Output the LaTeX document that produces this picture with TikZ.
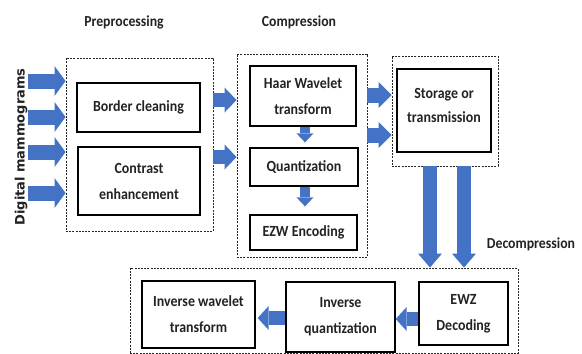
\documentclass[tikz,border=0pt]{standalone}
\usepackage{fontspec}
\setmainfont{Carlito}[FakeStretch=0.9]
\newfontfamily\dvsans{DejaVu Sans}
\usetikzlibrary{arrows.meta}
\definecolor{ablue}{RGB}{68,114,196}
\definecolor{txt}{RGB}{35,35,35}
\begin{document}
\begin{tikzpicture}[x=1pt,y=-1pt,
 box/.style={draw=black, line width=1.3pt, align=center, inner sep=0pt, text=txt, font=\bfseries\fontsize{15.5}{26}\selectfont},
 dbox/.style={draw=black!85, line width=0.9pt, dash pattern=on 2pt off 1.2pt, inner sep=0pt},
 lbl/.style={text=txt, font=\bfseries\fontsize{15.3}{18}\selectfont, inner sep=0pt},
 inarr/.style={draw=ablue, line width=15pt, -{Triangle[width=30pt,length=11pt,line width=0pt]}},
 midarr/.style={draw=ablue, line width=14pt, -{Triangle[width=25pt,length=12pt,line width=0pt]}},
 sarr/.style={draw=ablue, line width=15pt, -{Triangle[width=26pt,length=13pt,line width=0pt]}},
 varr/.style={draw=ablue, line width=14pt, -{Triangle[width=24pt,length=14pt,line width=0pt]}},
 harr/.style={draw=ablue, line width=14pt, -{Triangle[width=24pt,length=11pt,line width=0pt]}},
 smarr/.style={draw=ablue, line width=10pt, -{Triangle[width=17pt,length=9pt,line width=0pt]}}
]
\useasboundingbox[fill=white] (0,0) rectangle (582,354);

% group boxes
\node[dbox, minimum width=147pt, minimum height=173pt] (pre) at (139.5,144.5) {};
\node[dbox, minimum width=130pt, minimum height=203pt] (comp) at (302,155.5) {};
\node[dbox, minimum width=106pt, minimum height=110pt] (stod) at (445,111) {};
\node[dbox, minimum width=388pt, minimum height=85pt] (dec) at (324,310.5) {};

% process boxes
\node[box, minimum width=123pt, minimum height=49pt] (bc) at (138.5,107.5) {Border cleaning};
\node[box, minimum width=122pt, minimum height=68pt] (ce) at (139,181) {Contrast\\enhancement};
\node[box, minimum width=106pt, minimum height=60pt] (haar) at (303,96) {Haar Wavelet\\transform};
\node[box, minimum width=108pt, minimum height=38pt] (quant) at (304,167) {Quantization};
\node[box, minimum width=107pt, minimum height=35pt] (ezw) at (303.5,232.5) {EZW Encoding};
\node[box, minimum width=94pt, minimum height=83pt] (sto) at (444,110.5) {};
\node[lbl, align=center, font=\bfseries\fontsize{15.5}{24}\selectfont] (stxt) at (444,105) {Storage or\\transmission};
\node[box, minimum width=113pt, minimum height=67pt] (iwt) at (198.5,314.5) {Inverse wavelet\\transform};
\node[box, minimum width=109pt, minimum height=70pt] (iq) at (340.5,317) {Inverse\\quantization};
\node[box, minimum width=89pt, minimum height=63pt] (ewz) at (463.5,313.5) {EWZ\\Decoding};

% labels
\node[lbl] (lpre) at (124,22) {Preprocessing};
\node[lbl] (lcomp) at (299,22) {Compression};
\node[lbl] (ldec) at (531,244) {Decompression};
\node[text=txt, inner sep=0pt, rotate=90, font=\dvsans\bfseries\fontsize{13}{15}\selectfont] (ldm) at (21,147) {Digital mammograms};

% input arrows
\coordinate (i1) at (28,81);
\coordinate (i2) at (28,117);
\coordinate (i3) at (28,152);
\coordinate (i4) at (28,193);
\foreach \c in {i1,i2,i3,i4} \draw[inarr] (\c) -- (pre.west |- \c);

% pre -> comp
\coordinate (p1) at (0,100);
\coordinate (p2) at (0,157);
\foreach \c in {p1,p2} \draw[midarr] (pre.east |- \c) -- (comp.west |- \c);

% comp -> storage
\coordinate (s1) at (0,95);
\coordinate (s2) at (0,135);
\foreach \c in {s1,s2} \draw[sarr] (comp.east |- \c) -- (stod.west |- \c);

% storage -> decompression
\coordinate (v1) at (430,0);
\coordinate (v2) at (464,0);
\foreach \c in {v1,v2} \draw[varr] (stod.south -| \c) -- (dec.north -| \c);

% inside compression
\coordinate (c1) at (305,0);
\draw[smarr, shorten >=5pt] (haar.south -| c1) -- (quant.north -| c1);
\draw[smarr, shorten >=8pt] (quant.south -| c1) -- (ezw.north -| c1);

% decompression chain
\coordinate (h1) at (0,319);
\coordinate (h2) at (0,318);
\draw[harr] (ewz.west |- h1) -- (iq.east |- h1);
\draw[harr, shorten >=2pt] (iq.west |- h2) -- (iwt.east |- h2);
\end{tikzpicture}
\end{document}
